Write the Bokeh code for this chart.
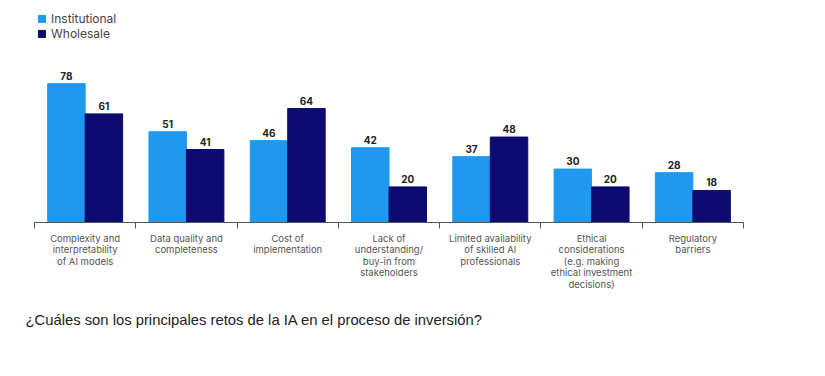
from bokeh.plotting import figure
from bokeh.models import (Range1d, FixedTicker, ColumnDataSource, Legend, LegendItem,
                          Title, LinearAxis)
from bokeh.transform import dodge
from bokeh.embed import file_html
from bokeh.resources import INLINE

categories = [
    "Complexity and\ninterpretability\nof AI models",
    "Data quality and\ncompleteness",
    "Cost of\nimplementation",
    "Lack of\nunderstanding/\nbuy-in from\nstakeholders",
    "Limited availability\nof skilled AI\nprofessionals",
    "Ethical\nconsiderations\n(e.g. making\nethical investment\ndecisions)",
    "Regulatory\nbarriers",
]
institutional = [78, 51, 46, 42, 37, 30, 28]
wholesale = [61, 41, 64, 20, 48, 20, 18]
series = ["Institutional", "Wholesale"]
colors = ["#1f99f0", "#0b0b72"]
caption = "¿Cuáles son los principales retos de la IA en el proceso de inversión?"

n = len(categories)
centers = [i + 0.5 for i in range(n)]
bw = 0.37
FONT = "Inter"

p = figure(width=825, height=376, output_backend="svg", toolbar_location=None,
           x_range=Range1d(0, n), y_range=Range1d(0, 124.7),
           min_border_left=34, min_border_right=82, min_border_top=0,
           min_border_bottom=154, x_axis_type=None, y_axis_type=None)
p.outline_line_color = None
p.xgrid.visible = False
p.ygrid.visible = False

src = ColumnDataSource(dict(
    x=centers, inst=institutional, whole=wholesale,
    inst_t=[str(v) for v in institutional], whole_t=[str(v) for v in wholesale]))

r1 = p.vbar(x=dodge("x", -bw / 2), top="inst", width=bw, color=colors[0], source=src)
r2 = p.vbar(x=dodge("x", bw / 2), top="whole", width=bw, color=colors[1], source=src)

for fld, txt, off in (("inst", "inst_t", -bw / 2), ("whole", "whole_t", bw / 2)):
    p.text(x=dodge("x", off), y=fld, text=txt, source=src, text_align="center",
           text_baseline="bottom", y_offset=-4, text_font_size="10px",
           text_font_style="bold", text_color="#222222", text_font={"value": FONT})

ax = LinearAxis(
    ticker=FixedTicker(ticks=centers, minor_ticks=list(range(n + 1))),
    major_label_overrides={c: lab for c, lab in zip(centers, categories)},
    major_tick_line_color=None, major_tick_in=0, major_tick_out=0,
    minor_tick_in=0, minor_tick_out=6, minor_tick_line_color="#555555",
    axis_line_color="#555555", major_label_standoff=4,
    major_label_text_font_size="9.5px", major_label_text_color="#555555",
    major_label_text_font=FONT, major_label_text_line_height=1.05)
p.add_layout(ax, "below")

legend = Legend(items=[LegendItem(label=series[0], renderers=[r1]),
                       LegendItem(label=series[1], renderers=[r2])],
                location=(3, 181), glyph_width=9, glyph_height=9, label_height=9,
                spacing=0, padding=0, margin=0, label_standoff=5,
                label_text_font_size="12px", label_text_font=FONT,
                label_text_color="#444444", background_fill_alpha=0,
                border_line_color=None)
p.add_layout(legend, "center")

p.add_layout(Title(text=caption, align="left", offset=-9, standoff=35,
                   text_font_size="14.8px", text_font="Liberation Sans",
                   text_font_style="normal", text_color="#222222"), "below")

open("out.html", "w").write(file_html(p, INLINE))
